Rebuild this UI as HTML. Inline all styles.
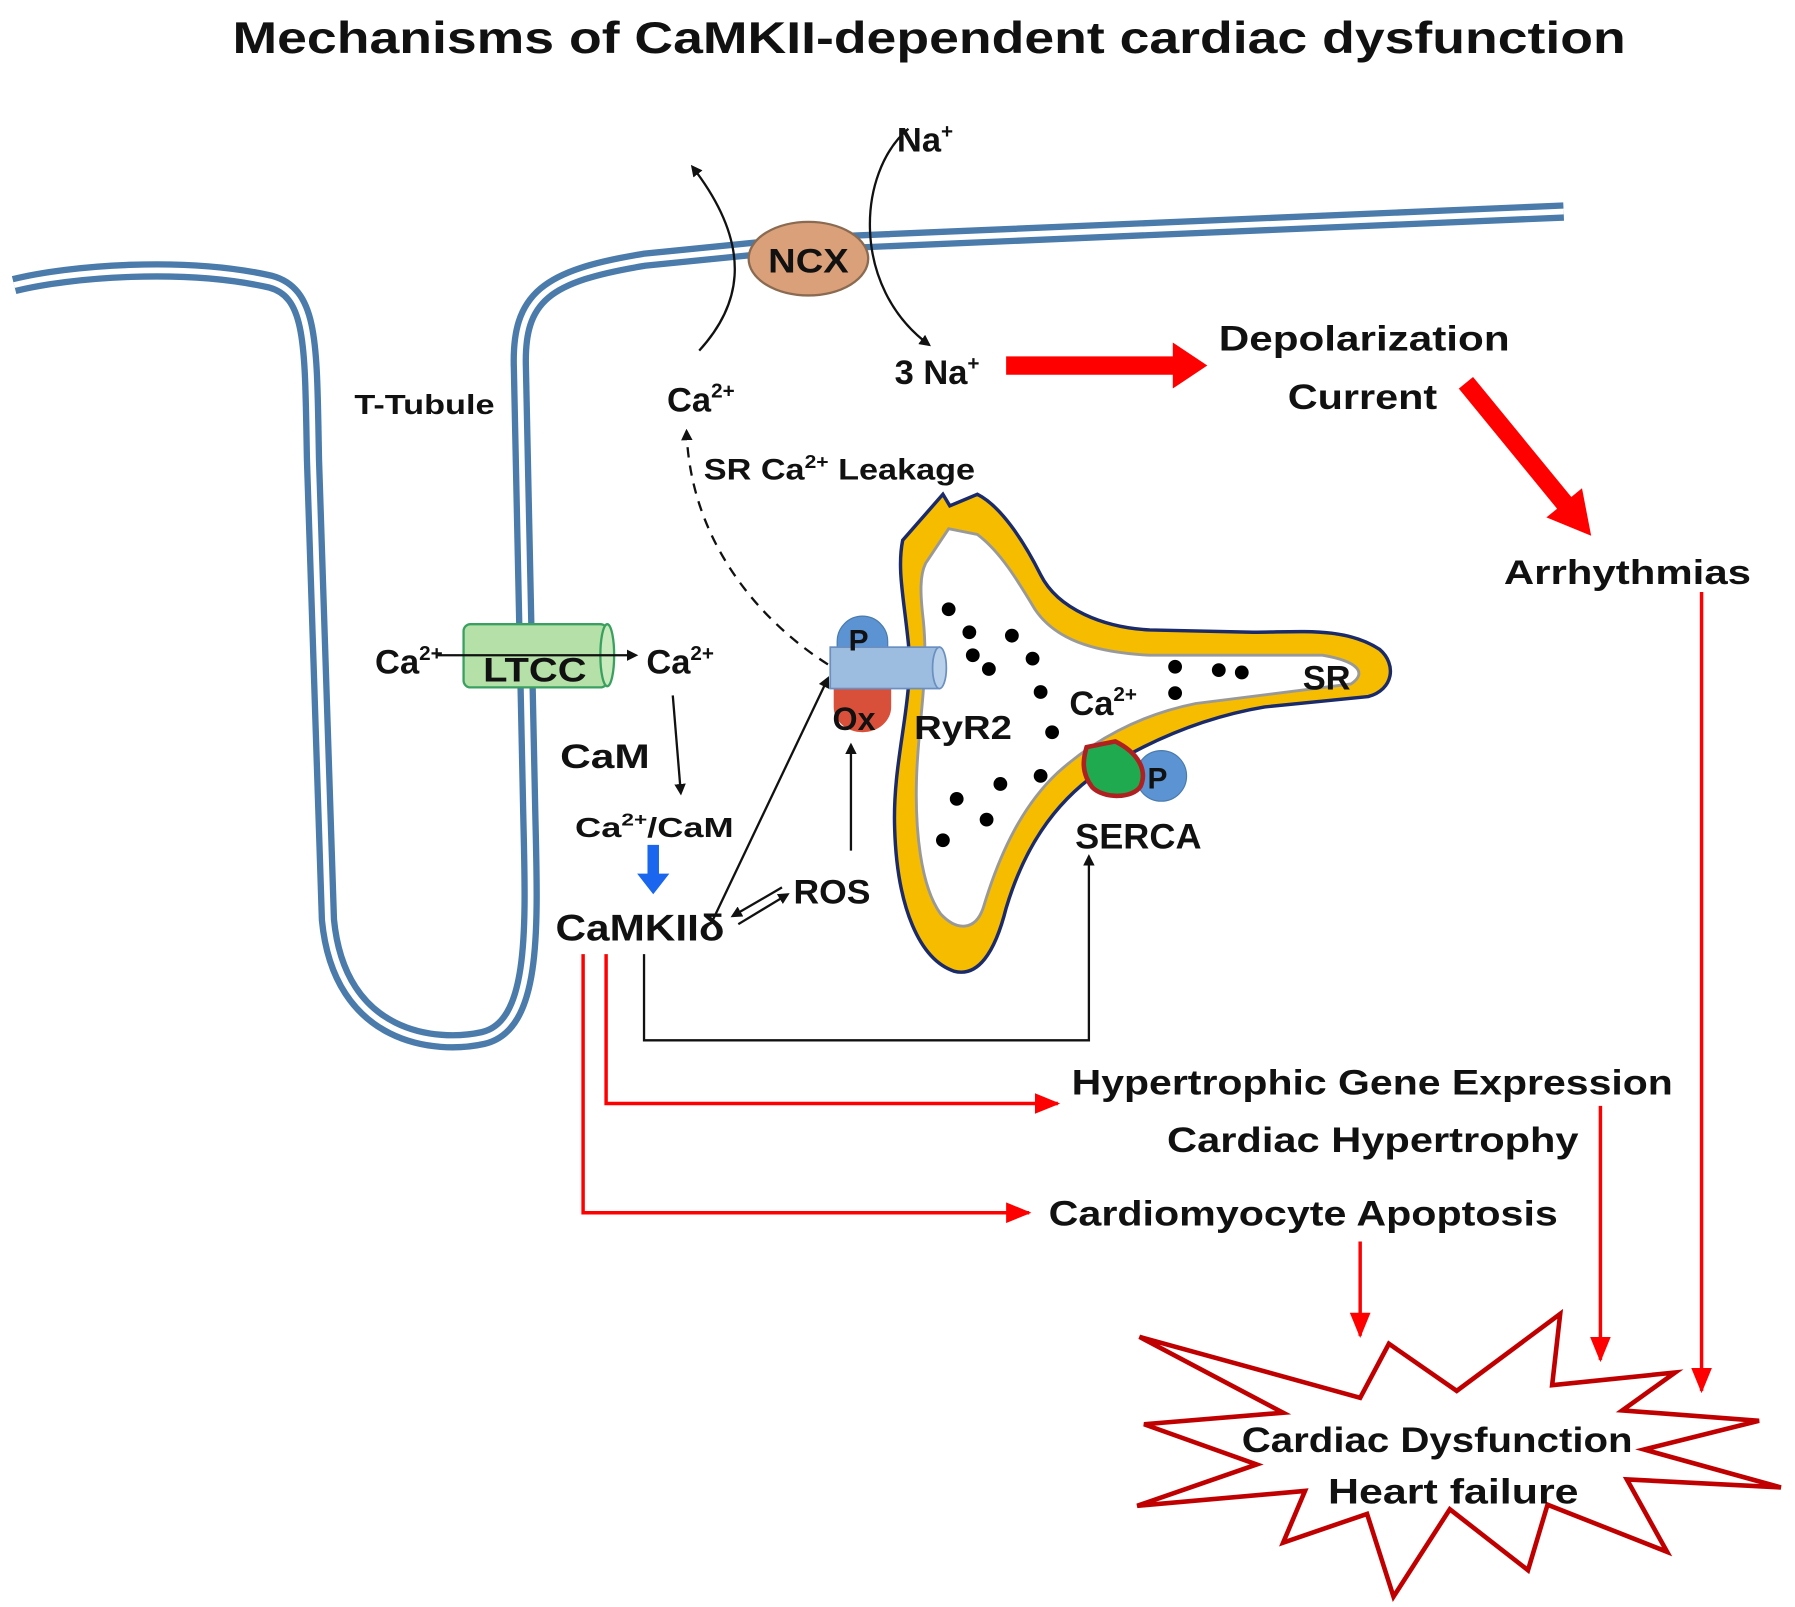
<!DOCTYPE html>
<html><head><meta charset="utf-8"><style>
html,body{margin:0;padding:0;background:#fff;}
svg{display:block;}
text{font-family:"Liberation Sans",sans-serif;font-weight:bold;fill:#111;}
</style></head><body>
<svg width="1795" height="1607" viewBox="0 0 1561 1398" xmlns="http://www.w3.org/2000/svg">
<defs>
<marker id="ab" markerWidth="10" markerHeight="10" refX="8" refY="5" orient="auto" markerUnits="userSpaceOnUse"><path d="M0,0 L10,5 L0,10 Z" fill="#111"/></marker>
<marker id="ar" markerWidth="22" markerHeight="18" refX="20" refY="9" orient="auto" markerUnits="userSpaceOnUse"><path d="M0,0 L22,9 L0,18 Z" fill="#f00"/></marker>
</defs>
<text x="808" y="46" font-size="39" text-anchor="middle" textLength="1212" lengthAdjust="spacingAndGlyphs">Mechanisms of CaMKII-dependent cardiac dysfunction</text>

<!-- membrane -->
<path d="M12,248 C60,236 160,228 235,245 C272,255 270,300 272,400 L285,800 C295,905 380,912 420,903 C468,892 462,800 460,700 L452,320 C450,258 475,240 560,226 L700,212 L1360,184" fill="none" stroke="#4a7bab" stroke-width="16"/>
<path d="M12,248 C60,236 160,228 235,245 C272,255 270,300 272,400 L285,800 C295,905 380,912 420,903 C468,892 462,800 460,700 L452,320 C450,258 475,240 560,226 L700,212 L1360,184" fill="none" stroke="#fff" stroke-width="5"/>

<!-- NCX -->
<path d="M608,305 C640,270 660,220 602,145" fill="none" stroke="#111" stroke-width="2" marker-end="url(#ab)"/>
<path d="M790,112 C745,150 740,250 808,300" fill="none" stroke="#111" stroke-width="2" marker-end="url(#ab)"/>
<ellipse cx="703" cy="225" rx="52" ry="32" fill="#d9a07a" stroke="#8a6a50" stroke-width="2"/>
<text x="668" y="237" font-size="30" textLength="70" lengthAdjust="spacingAndGlyphs">NCX</text>
<text x="780" y="132" font-size="30">Na<tspan font-size="18" dy="-12">+</tspan></text>
<text x="778" y="334" font-size="30">3 Na<tspan font-size="18" dy="-12">+</tspan></text>
<text x="580" y="358" font-size="30">Ca<tspan font-size="18" dy="-12">2+</tspan></text>
<polygon points="875,310 1020,310 1020,298 1050,318 1020,338 1020,326 875,326" fill="#f00"/>
<text x="1060" y="305" font-size="31" textLength="253" lengthAdjust="spacingAndGlyphs">Depolarization</text>
<text x="1120" y="356" font-size="31" textLength="130" lengthAdjust="spacingAndGlyphs">Current</text>
<g transform="translate(1275,333) rotate(50.7)">
<polygon points="0,-8 135,-8 135,-20 172,0 135,20 135,8 0,8" fill="#f00"/>
</g>
<text x="1308" y="508" font-size="30" textLength="215" lengthAdjust="spacingAndGlyphs">Arrhythmias</text>
<line x1="1480" y1="515" x2="1480" y2="1210" stroke="#f00" stroke-width="3" marker-end="url(#ar)"/>

<text x="308" y="360" font-size="24" textLength="122" lengthAdjust="spacingAndGlyphs">T-Tubule</text>
<text x="612" y="417" font-size="26" textLength="236" lengthAdjust="spacingAndGlyphs">SR Ca<tspan font-size="16" dy="-10">2+</tspan><tspan dy="10"> Leakage</tspan></text>
<path d="M720,578 C660,540 600,470 597,375" fill="none" stroke="#111" stroke-width="2" stroke-dasharray="9,7" marker-end="url(#ab)"/>

<!-- SR -->
<path d="M785,470 L820,430 L826,440 L850,430 C870,440 890,470 905,500 C920,530 960,546 1000,548 L1090,550 C1130,550 1170,545 1200,565 C1215,578 1212,600 1190,606 L1100,615 C1040,625 990,650 955,672 C915,700 890,740 875,790 C865,830 850,850 830,845 C800,835 780,790 778,720 C776,660 795,610 790,560 C786,520 780,495 785,470 Z" fill="#f5bc00" stroke="#1a2a6a" stroke-width="3"/>
<path d="M805,490 L825,460 L850,465 C870,480 885,505 900,530 C920,560 960,568 1000,570 L1150,570 C1180,575 1190,585 1175,595 L1040,612 C990,622 950,645 920,672 C890,700 870,740 855,790 C848,810 832,810 818,795 C800,770 796,720 797,680 C798,630 808,590 803,540 C800,515 800,500 805,490 Z" fill="#fff" stroke="#999" stroke-width="2.5"/>
<g fill="#000">
<circle cx="825" cy="530" r="6"/><circle cx="843" cy="550" r="6"/><circle cx="880" cy="553" r="6"/><circle cx="846" cy="570" r="6"/><circle cx="860" cy="582" r="6"/><circle cx="898" cy="573" r="6"/><circle cx="905" cy="602" r="6"/><circle cx="1022" cy="580" r="6"/><circle cx="1022" cy="603" r="6"/><circle cx="1060" cy="583" r="6"/><circle cx="1080" cy="585" r="6"/><circle cx="915" cy="637" r="6"/><circle cx="905" cy="675" r="6"/><circle cx="870" cy="682" r="6"/><circle cx="832" cy="695" r="6"/><circle cx="858" cy="713" r="6"/><circle cx="820" cy="731" r="6"/>
</g>
<text x="930" y="622" font-size="30">Ca<tspan font-size="18" dy="-12">2+</tspan></text>
<text x="1133" y="600" font-size="30">SR</text>
<!-- RyR2 -->
<path d="M728,558 A22,22 0 1 1 772,558 L772,565 L728,565 Z" fill="#5b93d3" stroke="#4a7bab"/>
<path d="M725,598 L775,598 L775,615 A25,22 0 0 1 725,615 Z" fill="#d9503a"/>
<rect x="722" y="563" width="95" height="36" fill="#9dbde0" stroke="#6a8fc0" stroke-width="1.5"/>
<ellipse cx="817" cy="581" rx="6" ry="18" fill="#b8d0ea" stroke="#6a8fc0" stroke-width="1.5"/>
<text x="738" y="566" font-size="26">P</text>
<text x="724" y="635" font-size="28">Ox</text>
<text x="795" y="643" font-size="29" textLength="85" lengthAdjust="spacingAndGlyphs">RyR2</text>
<!-- SERCA -->
<circle cx="1010" cy="675" r="22" fill="#5b93d3" stroke="#4a7bab"/>
<path d="M945,650 L970,645 C990,655 998,670 992,684 C985,695 960,695 950,685 C940,672 942,660 945,650 Z" fill="#1faa50" stroke="#b02020" stroke-width="4"/>
<text x="998" y="686" font-size="26">P</text>
<text x="935" y="738" font-size="31" textLength="110" lengthAdjust="spacingAndGlyphs">SERCA</text>

<!-- LTCC -->
<rect x="403" y="543" width="125" height="55" rx="6" fill="#b5e0a8" stroke="#3aa060" stroke-width="2"/>
<ellipse cx="528" cy="570" rx="6" ry="27" fill="#c8eabc" stroke="#3aa060" stroke-width="2"/>
<text x="326" y="586" font-size="30">Ca<tspan font-size="18" dy="-12">2+</tspan></text>
<line x1="380" y1="570" x2="553" y2="570" stroke="#111" stroke-width="2" marker-end="url(#ab)"/>
<text x="420" y="593" font-size="30" textLength="90" lengthAdjust="spacingAndGlyphs">LTCC</text>
<text x="562" y="586" font-size="30">Ca<tspan font-size="18" dy="-12">2+</tspan></text>
<line x1="585" y1="605" x2="592" y2="690" stroke="#111" stroke-width="2" marker-end="url(#ab)"/>
<text x="487" y="668" font-size="30" textLength="78" lengthAdjust="spacingAndGlyphs">CaM</text>
<text x="500" y="728" font-size="24" textLength="138" lengthAdjust="spacingAndGlyphs">Ca<tspan font-size="15" dy="-10">2+</tspan><tspan dy="10">/CaM</tspan></text>
<path d="M563,735 L573,735 L573,760 L582,760 L568,778 L554,760 L563,760 Z" fill="#1a66ee"/>
<text x="483" y="818" font-size="32" textLength="147" lengthAdjust="spacingAndGlyphs">CaMKIIδ</text>
<line x1="620" y1="800" x2="720" y2="590" stroke="#111" stroke-width="2" marker-end="url(#ab)"/>
<text x="690" y="786" font-size="30" textLength="67" lengthAdjust="spacingAndGlyphs">ROS</text>
<line x1="642" y1="804" x2="685" y2="778" stroke="#111" stroke-width="2" marker-end="url(#ab)"/>
<line x1="680" y1="772" x2="637" y2="797" stroke="#111" stroke-width="2" marker-end="url(#ab)"/>
<line x1="740" y1="740" x2="740" y2="648" stroke="#111" stroke-width="2" marker-end="url(#ab)"/>
<polyline points="560,830 560,905 947,905 947,745" fill="none" stroke="#111" stroke-width="2" marker-end="url(#ab)"/>

<!-- red pathways -->
<polyline points="507,830 507,1055 895,1055" fill="none" stroke="#f00" stroke-width="3" marker-end="url(#ar)"/>
<polyline points="527,830 527,960 920,960" fill="none" stroke="#f00" stroke-width="3" marker-end="url(#ar)"/>
<text x="932" y="952" font-size="31" textLength="523" lengthAdjust="spacingAndGlyphs">Hypertrophic Gene Expression</text>
<text x="1015" y="1002" font-size="31" textLength="358" lengthAdjust="spacingAndGlyphs">Cardiac Hypertrophy</text>
<text x="912" y="1066" font-size="31" textLength="443" lengthAdjust="spacingAndGlyphs">Cardiomyocyte Apoptosis</text>
<line x1="1183" y1="1080" x2="1183" y2="1162" stroke="#f00" stroke-width="3" marker-end="url(#ar)"/>
<line x1="1392" y1="962" x2="1392" y2="1183" stroke="#f00" stroke-width="3" marker-end="url(#ar)"/>

<!-- starburst -->
<polygon points="991,1163 1183,1216 1208,1169 1267,1210 1357,1143 1350,1205 1457,1194 1411,1227 1530,1236 1430,1261 1549,1294 1415,1287 1450,1350 1346,1309 1329,1366 1261,1313 1212,1389 1189,1317 1116,1342 1135,1297 989,1310 1093,1274 995,1239 1116,1229" fill="#fff" stroke="#c00000" stroke-width="4"/>
<text x="1080" y="1263" font-size="31" textLength="340" lengthAdjust="spacingAndGlyphs">Cardiac Dysfunction</text>
<text x="1155" y="1308" font-size="31" textLength="218" lengthAdjust="spacingAndGlyphs">Heart failure</text>
</svg>
</body></html>
